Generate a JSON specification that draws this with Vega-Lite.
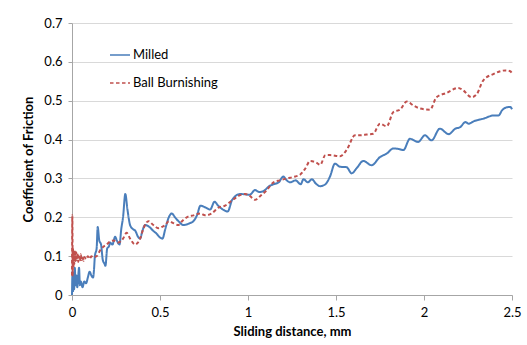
{
  "$schema": "https://vega.github.io/schema/vega-lite/v6.json",
  "width": 440,
  "height": 272,
  "autosize": {"type": "none"},
  "padding": {"left": 72, "top": 23, "right": 15, "bottom": 50},
  "background": "white",
  "config": {
    "font": "Lato",
    "view": {"stroke": null},
    "axis": {
      "labelFont": "Lato", "labelFontSize": 13, "labelColor": "#000000",
      "titleFont": "Lato", "titleFontSize": 13, "titleFontWeight": "bold", "titleColor": "#000000",
      "gridColor": "#d9d9d9", "domainColor": "#a6a6a6", "tickColor": "#a6a6a6"
    }
  },
  "data": {"values": [
    {"s":"Milled","x":0,"y":0},{"s":"Milled","x":0.003,"y":0.06},{"s":"Milled","x":0.006,"y":0.01},{"s":"Milled","x":0.009,"y":0.05},{"s":"Milled","x":0.012,"y":0.015},{"s":"Milled","x":0.016,"y":0.07},{"s":"Milled","x":0.02,"y":0.025},{"s":"Milled","x":0.025,"y":0.05},{"s":"Milled","x":0.03,"y":0.02},{"s":"Milled","x":0.035,"y":0.045},{"s":"Milled","x":0.04,"y":0.07},{"s":"Milled","x":0.045,"y":0.025},{"s":"Milled","x":0.05,"y":0.035},{"s":"Milled","x":0.06,"y":0.02},{"s":"Milled","x":0.07,"y":0.035},{"s":"Milled","x":0.08,"y":0.03},{"s":"Milled","x":0.09,"y":0.045},{"s":"Milled","x":0.1,"y":0.06},{"s":"Milled","x":0.11,"y":0.05},{"s":"Milled","x":0.12,"y":0.045},{"s":"Milled","x":0.125,"y":0.065},{"s":"Milled","x":0.13,"y":0.1},{"s":"Milled","x":0.14,"y":0.12},{"s":"Milled","x":0.146,"y":0.175},{"s":"Milled","x":0.155,"y":0.14},{"s":"Milled","x":0.165,"y":0.13},{"s":"Milled","x":0.175,"y":0.09},{"s":"Milled","x":0.185,"y":0.08},{"s":"Milled","x":0.19,"y":0.075},{"s":"Milled","x":0.2,"y":0.12},{"s":"Milled","x":0.21,"y":0.125},{"s":"Milled","x":0.216,"y":0.135},{"s":"Milled","x":0.23,"y":0.13},{"s":"Milled","x":0.245,"y":0.15},{"s":"Milled","x":0.255,"y":0.14},{"s":"Milled","x":0.27,"y":0.13},{"s":"Milled","x":0.28,"y":0.17},{"s":"Milled","x":0.29,"y":0.2},{"s":"Milled","x":0.303,"y":0.26},{"s":"Milled","x":0.315,"y":0.22},{"s":"Milled","x":0.33,"y":0.18},{"s":"Milled","x":0.345,"y":0.17},{"s":"Milled","x":0.36,"y":0.165},{"s":"Milled","x":0.375,"y":0.15},{"s":"Milled","x":0.387,"y":0.145},{"s":"Milled","x":0.4,"y":0.165},{"s":"Milled","x":0.415,"y":0.18},{"s":"Milled","x":0.44,"y":0.175},{"s":"Milled","x":0.462,"y":0.165},{"s":"Milled","x":0.48,"y":0.158},{"s":"Milled","x":0.5,"y":0.148},{"s":"Milled","x":0.514,"y":0.145},{"s":"Milled","x":0.53,"y":0.17},{"s":"Milled","x":0.55,"y":0.2},{"s":"Milled","x":0.567,"y":0.21},{"s":"Milled","x":0.585,"y":0.2},{"s":"Milled","x":0.605,"y":0.19},{"s":"Milled","x":0.633,"y":0.18},{"s":"Milled","x":0.67,"y":0.185},{"s":"Milled","x":0.69,"y":0.19},{"s":"Milled","x":0.71,"y":0.205},{"s":"Milled","x":0.73,"y":0.23},{"s":"Milled","x":0.76,"y":0.225},{"s":"Milled","x":0.785,"y":0.22},{"s":"Milled","x":0.81,"y":0.24},{"s":"Milled","x":0.83,"y":0.23},{"s":"Milled","x":0.857,"y":0.22},{"s":"Milled","x":0.885,"y":0.215},{"s":"Milled","x":0.91,"y":0.245},{"s":"Milled","x":0.955,"y":0.26},{"s":"Milled","x":1.01,"y":0.258},{"s":"Milled","x":1.04,"y":0.27},{"s":"Milled","x":1.065,"y":0.265},{"s":"Milled","x":1.09,"y":0.268},{"s":"Milled","x":1.12,"y":0.28},{"s":"Milled","x":1.145,"y":0.285},{"s":"Milled","x":1.175,"y":0.29},{"s":"Milled","x":1.2,"y":0.305},{"s":"Milled","x":1.22,"y":0.295},{"s":"Milled","x":1.24,"y":0.29},{"s":"Milled","x":1.27,"y":0.295},{"s":"Milled","x":1.3,"y":0.285},{"s":"Milled","x":1.315,"y":0.298},{"s":"Milled","x":1.34,"y":0.29},{"s":"Milled","x":1.363,"y":0.298},{"s":"Milled","x":1.385,"y":0.287},{"s":"Milled","x":1.41,"y":0.28},{"s":"Milled","x":1.44,"y":0.285},{"s":"Milled","x":1.466,"y":0.305},{"s":"Milled","x":1.494,"y":0.338},{"s":"Milled","x":1.523,"y":0.33},{"s":"Milled","x":1.56,"y":0.329},{"s":"Milled","x":1.589,"y":0.313},{"s":"Milled","x":1.617,"y":0.326},{"s":"Milled","x":1.655,"y":0.345},{"s":"Milled","x":1.702,"y":0.334},{"s":"Milled","x":1.75,"y":0.355},{"s":"Milled","x":1.788,"y":0.364},{"s":"Milled","x":1.826,"y":0.377},{"s":"Milled","x":1.855,"y":0.376},{"s":"Milled","x":1.883,"y":0.373},{"s":"Milled","x":1.92,"y":0.402},{"s":"Milled","x":1.967,"y":0.394},{"s":"Milled","x":2.005,"y":0.411},{"s":"Milled","x":2.043,"y":0.398},{"s":"Milled","x":2.09,"y":0.428},{"s":"Milled","x":2.14,"y":0.414},{"s":"Milled","x":2.178,"y":0.428},{"s":"Milled","x":2.206,"y":0.432},{"s":"Milled","x":2.235,"y":0.445},{"s":"Milled","x":2.254,"y":0.441},{"s":"Milled","x":2.282,"y":0.447},{"s":"Milled","x":2.339,"y":0.454},{"s":"Milled","x":2.396,"y":0.462},{"s":"Milled","x":2.424,"y":0.462},{"s":"Milled","x":2.443,"y":0.475},{"s":"Milled","x":2.47,"y":0.483},{"s":"Milled","x":2.49,"y":0.484},{"s":"Milled","x":2.5,"y":0.478},
    {"s":"Ball Burnishing","x":0,"y":0.05},{"s":"Ball Burnishing","x":0.002,"y":0.205},{"s":"Ball Burnishing","x":0.004,"y":0.05},{"s":"Ball Burnishing","x":0.006,"y":0.12},{"s":"Ball Burnishing","x":0.008,"y":0.07},{"s":"Ball Burnishing","x":0.01,"y":0.11},{"s":"Ball Burnishing","x":0.013,"y":0.08},{"s":"Ball Burnishing","x":0.016,"y":0.115},{"s":"Ball Burnishing","x":0.02,"y":0.085},{"s":"Ball Burnishing","x":0.024,"y":0.11},{"s":"Ball Burnishing","x":0.028,"y":0.09},{"s":"Ball Burnishing","x":0.032,"y":0.108},{"s":"Ball Burnishing","x":0.036,"y":0.085},{"s":"Ball Burnishing","x":0.04,"y":0.1},{"s":"Ball Burnishing","x":0.045,"y":0.088},{"s":"Ball Burnishing","x":0.05,"y":0.105},{"s":"Ball Burnishing","x":0.055,"y":0.09},{"s":"Ball Burnishing","x":0.06,"y":0.1},{"s":"Ball Burnishing","x":0.065,"y":0.088},{"s":"Ball Burnishing","x":0.07,"y":0.098},{"s":"Ball Burnishing","x":0.08,"y":0.092},{"s":"Ball Burnishing","x":0.09,"y":0.1},{"s":"Ball Burnishing","x":0.1,"y":0.093},{"s":"Ball Burnishing","x":0.11,"y":0.1},{"s":"Ball Burnishing","x":0.12,"y":0.097},{"s":"Ball Burnishing","x":0.14,"y":0.1},{"s":"Ball Burnishing","x":0.16,"y":0.115},{"s":"Ball Burnishing","x":0.18,"y":0.125},{"s":"Ball Burnishing","x":0.197,"y":0.13},{"s":"Ball Burnishing","x":0.215,"y":0.137},{"s":"Ball Burnishing","x":0.235,"y":0.14},{"s":"Ball Burnishing","x":0.263,"y":0.135},{"s":"Ball Burnishing","x":0.29,"y":0.145},{"s":"Ball Burnishing","x":0.31,"y":0.16},{"s":"Ball Burnishing","x":0.33,"y":0.145},{"s":"Ball Burnishing","x":0.358,"y":0.13},{"s":"Ball Burnishing","x":0.387,"y":0.145},{"s":"Ball Burnishing","x":0.405,"y":0.17},{"s":"Ball Burnishing","x":0.434,"y":0.19},{"s":"Ball Burnishing","x":0.462,"y":0.18},{"s":"Ball Burnishing","x":0.49,"y":0.172},{"s":"Ball Burnishing","x":0.51,"y":0.175},{"s":"Ball Burnishing","x":0.53,"y":0.18},{"s":"Ball Burnishing","x":0.55,"y":0.19},{"s":"Ball Burnishing","x":0.576,"y":0.185},{"s":"Ball Burnishing","x":0.605,"y":0.18},{"s":"Ball Burnishing","x":0.625,"y":0.19},{"s":"Ball Burnishing","x":0.652,"y":0.2},{"s":"Ball Burnishing","x":0.69,"y":0.205},{"s":"Ball Burnishing","x":0.728,"y":0.21},{"s":"Ball Burnishing","x":0.756,"y":0.205},{"s":"Ball Burnishing","x":0.794,"y":0.21},{"s":"Ball Burnishing","x":0.832,"y":0.225},{"s":"Ball Burnishing","x":0.87,"y":0.23},{"s":"Ball Burnishing","x":0.9,"y":0.24},{"s":"Ball Burnishing","x":0.946,"y":0.255},{"s":"Ball Burnishing","x":0.984,"y":0.26},{"s":"Ball Burnishing","x":1.01,"y":0.255},{"s":"Ball Burnishing","x":1.04,"y":0.245},{"s":"Ball Burnishing","x":1.07,"y":0.255},{"s":"Ball Burnishing","x":1.107,"y":0.27},{"s":"Ball Burnishing","x":1.145,"y":0.29},{"s":"Ball Burnishing","x":1.18,"y":0.295},{"s":"Ball Burnishing","x":1.22,"y":0.3},{"s":"Ball Burnishing","x":1.268,"y":0.305},{"s":"Ball Burnishing","x":1.297,"y":0.31},{"s":"Ball Burnishing","x":1.325,"y":0.325},{"s":"Ball Burnishing","x":1.353,"y":0.345},{"s":"Ball Burnishing","x":1.39,"y":0.34},{"s":"Ball Burnishing","x":1.41,"y":0.335},{"s":"Ball Burnishing","x":1.44,"y":0.36},{"s":"Ball Burnishing","x":1.466,"y":0.36},{"s":"Ball Burnishing","x":1.523,"y":0.357},{"s":"Ball Burnishing","x":1.56,"y":0.373},{"s":"Ball Burnishing","x":1.608,"y":0.411},{"s":"Ball Burnishing","x":1.636,"y":0.411},{"s":"Ball Burnishing","x":1.675,"y":0.413},{"s":"Ball Burnishing","x":1.712,"y":0.415},{"s":"Ball Burnishing","x":1.75,"y":0.441},{"s":"Ball Burnishing","x":1.788,"y":0.434},{"s":"Ball Burnishing","x":1.826,"y":0.471},{"s":"Ball Burnishing","x":1.864,"y":0.477},{"s":"Ball Burnishing","x":1.902,"y":0.498},{"s":"Ball Burnishing","x":1.939,"y":0.488},{"s":"Ball Burnishing","x":1.977,"y":0.48},{"s":"Ball Burnishing","x":2.034,"y":0.477},{"s":"Ball Burnishing","x":2.071,"y":0.509},{"s":"Ball Burnishing","x":2.128,"y":0.52},{"s":"Ball Burnishing","x":2.195,"y":0.533},{"s":"Ball Burnishing","x":2.222,"y":0.527},{"s":"Ball Burnishing","x":2.27,"y":0.509},{"s":"Ball Burnishing","x":2.3,"y":0.517},{"s":"Ball Burnishing","x":2.336,"y":0.552},{"s":"Ball Burnishing","x":2.396,"y":0.569},{"s":"Ball Burnishing","x":2.462,"y":0.578},{"s":"Ball Burnishing","x":2.49,"y":0.576},{"s":"Ball Burnishing","x":2.5,"y":0.57}
  ]},
  "mark": {"type": "line", "strokeWidth": 2, "interpolate": "monotone"},
  "encoding": {
    "x": {"field": "x", "type": "quantitative", "title": "Sliding distance, mm",
      "scale": {"domain": [0, 2.5], "nice": false},
      "axis": {"values": [0, 0.5, 1, 1.5, 2, 2.5], "format": "~g", "grid": false, "ticks": true, "tickSize": 5, "labelPadding": 6, "titlePadding": 6, "labelFlush": false}},
    "y": {"field": "y", "type": "quantitative", "title": "Coefficient of Friction",
      "scale": {"domain": [0, 0.7], "nice": false},
      "axis": {"values": [0, 0.1, 0.2, 0.3, 0.4, 0.5, 0.6, 0.7], "format": "~g", "grid": true, "tickSize": 4, "labelPadding": 6, "titlePadding": 8, "labelFlush": false}},
    "color": {"field": "s", "type": "nominal",
      "scale": {"domain": ["Milled", "Ball Burnishing"], "range": ["#4a7ebb", "#c0504d"]},
      "legend": {"orient": "none", "legendX": 37, "legendY": 21, "title": null, "symbolType": "stroke", "symbolSize": 400, "symbolStrokeWidth": 1.5, "labelFont": "Lato", "labelFontSize": 13, "labelColor": "#000000", "rowPadding": 10, "labelOffset": 2}},
    "strokeDash": {"field": "s", "type": "nominal",
      "scale": {"domain": ["Milled", "Ball Burnishing"], "range": [[1, 0], [3.5, 2.5]]},
      "legend": {"orient": "none", "legendX": 37, "legendY": 21, "title": null}},
    "order": {"field": "x", "type": "quantitative"}
  }
}
